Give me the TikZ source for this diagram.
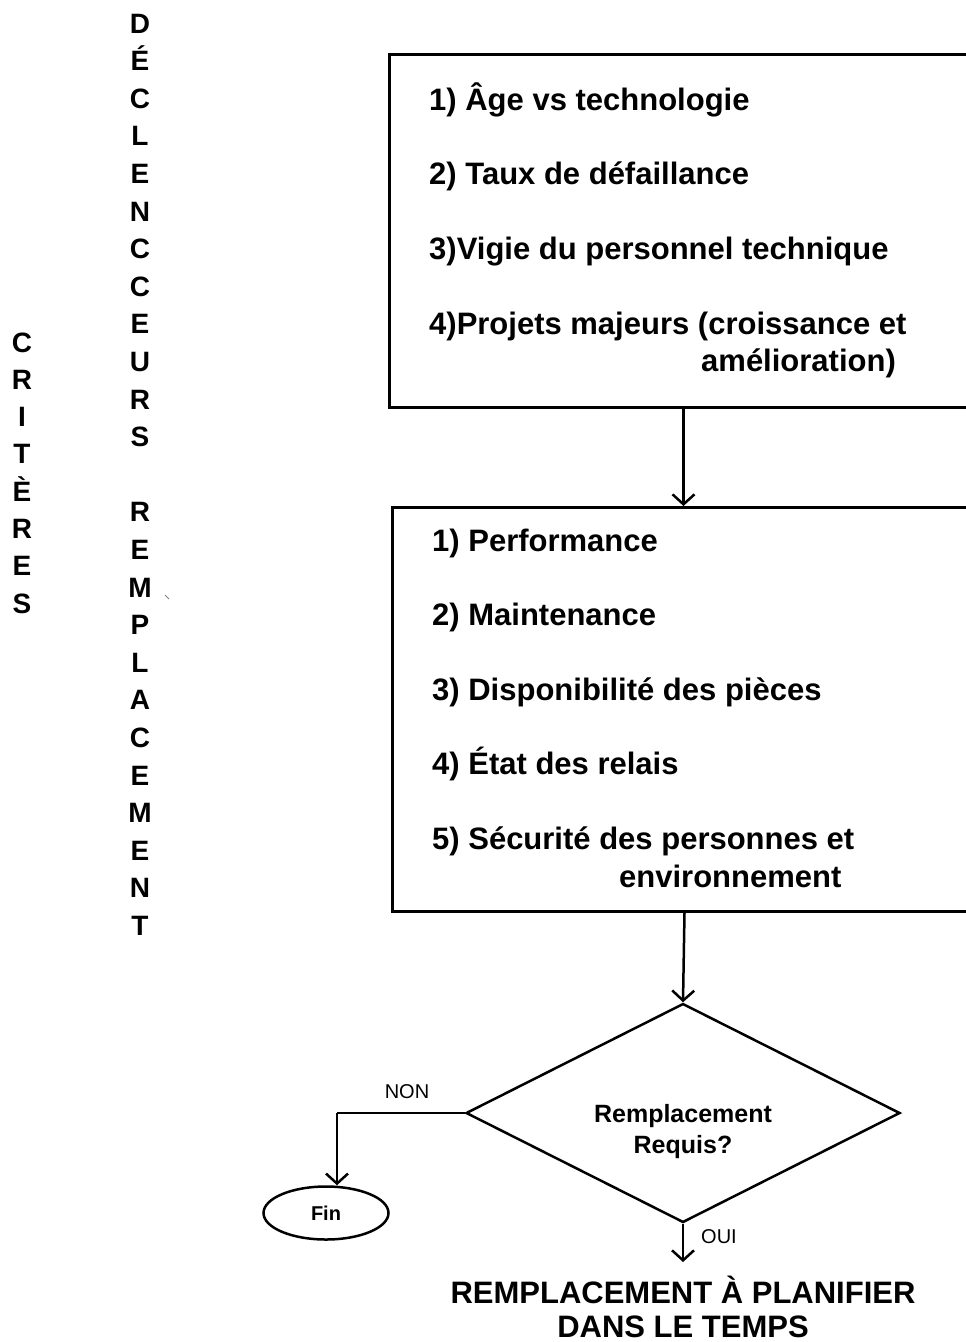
\documentclass[tikz,border=0pt]{standalone}
\usepackage{fontspec}
\setmainfont{Liberation Sans}
\usetikzlibrary{arrows.meta,shapes.geometric}

\begin{document}
\begin{tikzpicture}[x=1pt,y=-1pt,
  frame/.style={draw, line width=3pt, inner sep=0, anchor=north west},
  item/.style={anchor=base west, inner sep=0, font=\fontsize{31}{37}\selectfont\bfseries},
  letter/.style={anchor=base, inner sep=0, font=\fontsize{28}{34}\selectfont\bfseries},
  link/.style={line width=2.5pt, -{Straight Barb[length=10pt,width=22pt]}},
  flow/.style={line width=2.5pt},
  tag/.style={inner sep=0, font=\fontsize{20}{24}\selectfont},
  title/.style={anchor=base, inner sep=0, font=\fontsize{31}{37}\selectfont\bfseries}]
\clip (0,0) rectangle (966,1342);

% vertical headings
\foreach \ch [count=\i from 0] in {C,R,I,T,È,R,E,S}
  \node[letter] (crit\i) at (22,{352+\i*37.3}) {\ch};
\foreach \ch [count=\i from 0] in {D,É,C,L,E,N,C,C,E,U,R,S}
  \node[letter] (decl\i) at (140,{33+\i*37.6}) {\ch};
\foreach \ch [count=\i from 13] in {R,E,M,P,L,A,C,E,M,E,N,T}
  \node[letter] (rempl\i) at (140,{33+\i*37.6}) {\ch};
\draw[gray, line width=0.8pt] (165,595) -- (169,599);

% triggers box
\node[frame, minimum width=588pt, minimum height=353pt] (box1) at (388,53) {};
\node[item] (t1) at (429,110) {1) Âge vs technologie};
\node[item] (t2) at (429,184) {2) Taux de défaillance};
\node[item] (t3) at (429,259) {3)Vigie du personnel technique};
\node[item] (t4) at (429,334) {4)Projets majeurs (croissance et};
\node[item] (t4b) at (701,371) {amélioration)};

% criteria box
\node[frame, minimum width=584pt, minimum height=404pt] (box2) at (391,506) {};
\node[item] (c1) at (432,551) {1) Performance};
\node[item] (c2) at (432,625) {2) Maintenance};
\node[item] (c3) at (432,700) {3) Disponibilité des pièces};
\node[item] (c4) at (432,774) {4) État des relais};
\node[item] (c5) at (432,849) {5) Sécurité des personnes et};
\node[item] (c5b) at (619,887) {environnement};

% decision
\node[draw, diamond, line width=2.5pt, inner sep=0, minimum width=434pt, minimum height=219pt] (dia) at (683,1113) {};
\node[anchor=base, inner sep=0, font=\fontsize{25}{31}\selectfont\bfseries] (q1) at (683,1122) {Remplacement};
\node[anchor=base, inner sep=0, font=\fontsize{25}{31}\selectfont\bfseries] (q2) at (683,1153) {Requis?};

\node[draw, ellipse, line width=2.5pt, inner sep=0, minimum width=125pt, minimum height=53pt, font=\fontsize{20}{24}\selectfont\bfseries] (fin) at (326,1213) {Fin};

\node[title] (r1) at (683,1303) {REMPLACEMENT À PLANIFIER};
\node[title] (r2) at (683,1337) {DANS LE TEMPS};

% connectors
\draw[link] (box1.south) -- (box1.south |- box2.north);
\draw[link] (box2.south) -- (dia.north);
\coordinate (turn) at (337,1113);
\draw[flow] (dia.west) -- (turn);
\draw[link] (turn) -- (turn |- fin.north);
\coordinate (ouiend) at (683,1262);
\draw[link] (dia.south) -- (ouiend);
\node[tag] (non) at (407,1092) {NON};
\node[tag] (oui) at (719,1237) {OUI};
\end{tikzpicture}
\end{document}
